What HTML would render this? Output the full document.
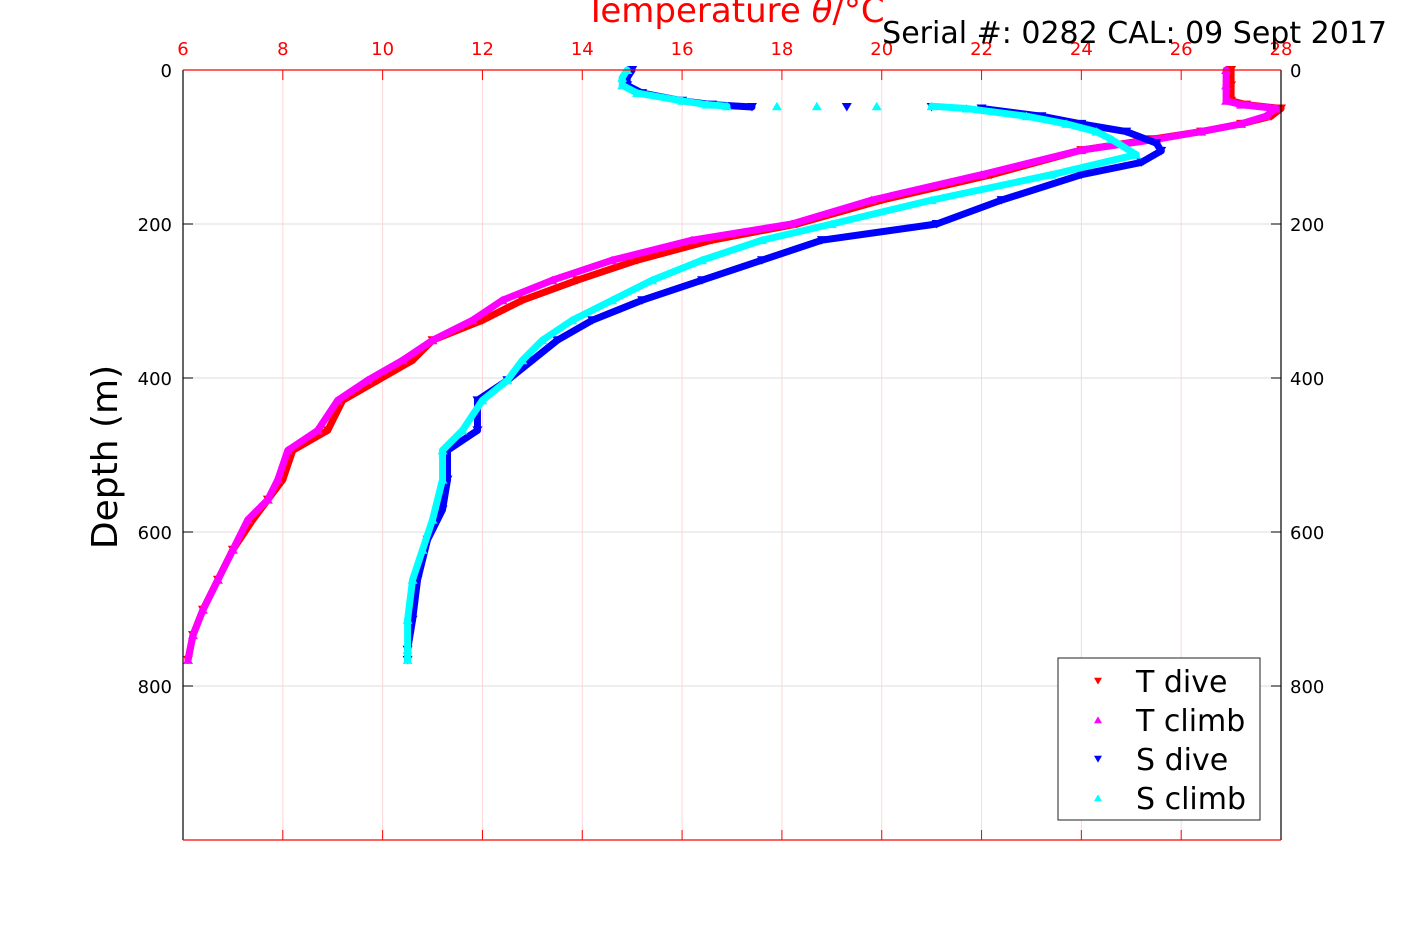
<!DOCTYPE html>
<html><head><meta charset="utf-8"><style>
html,body{margin:0;padding:0;background:#fff;}
svg{display:block;font-family:"DejaVu Sans","Liberation Sans",sans-serif;}
</style></head><body>
<svg id="chart" width="1417" height="945" viewBox="0 0 1417 945" xmlns="http://www.w3.org/2000/svg">
<rect width="1417" height="945" fill="#fff"/>
<g id="grid"></g>
<g id="series"></g>
<g id="axes"></g>
<text x="735" y="22" font-size="34" fill="#ff0000" text-anchor="middle">Temperature <tspan font-style="italic">θ</tspan>/°C</text>
<text x="1387" y="43" font-size="30" fill="#000" text-anchor="end">Serial #: 0282  CAL: 09 Sept 2017</text>
<text transform="translate(117,457) rotate(-90)" font-size="36" fill="#000" text-anchor="middle">Depth (m)</text>
<g id="legend"></g>
</svg>
<script>
const xTicks=[6,8,10,12,14,16,18,20,22,24,26,28];
const yTicks=[0,200,400,600,800,1000];
const yTickLabels=["0","200","400","600","800",""];
const tDiveDepth=[0,20,40,45,50,60,70,80,90,104,136,169,200,221,247,273,299,325,351,377,403,429,468,494,532,558,584,623,662,701,734,766];
const tDiveVal=[27.0,27.0,27.0,27.3,28.0,27.8,27.2,26.4,25.4,24.0,22.2,20.0,18.3,16.6,15.1,13.9,12.8,12.0,11.0,10.6,9.9,9.2,8.9,8.2,8.0,7.7,7.4,7.0,6.7,6.4,6.2,6.1];
const tClimbDepth=[0,20,40,45,50,60,70,80,90,104,136,169,200,221,247,273,299,325,351,377,403,429,468,494,532,558,584,623,662,701,734,766];
const tClimbVal=[26.9,26.9,26.9,27.2,27.9,27.7,27.2,26.4,25.5,24.0,22.0,19.8,18.2,16.2,14.6,13.4,12.4,11.8,11.0,10.4,9.7,9.1,8.7,8.1,7.9,7.7,7.3,7.0,6.7,6.4,6.2,6.1];
const sDiveDepth=[0,10,20,30,40,45,48,48,48,50,60,70,80,95,105,120,136,169,200,221,247,273,299,325,351,377,403,429,468,494,532,571,610,662,714,753,766];
const sDiveVal=[15.0,14.9,14.9,15.2,16.0,16.6,17.4,19.3,21.0,22.0,23.2,24.0,24.9,25.5,25.6,25.2,24.0,22.4,21.1,18.8,17.6,16.4,15.2,14.2,13.5,13.0,12.5,11.9,11.9,11.3,11.3,11.2,10.9,10.7,10.6,10.5,10.5];
const sClimbDepth=[0,10,20,30,40,45,47,47,47,47,47,50,60,70,80,90,110,136,169,200,221,247,273,299,325,351,377,403,429,468,494,532,584,623,662,714,753,766];
const sClimbVal=[14.9,14.8,14.8,15.1,16.0,16.5,16.9,17.9,18.7,19.9,21.0,21.7,22.9,23.7,24.3,24.6,25.1,23.4,21.0,19.0,17.6,16.4,15.4,14.6,13.8,13.2,12.8,12.5,12.0,11.6,11.2,11.2,11.0,10.8,10.6,10.5,10.5,10.5];
const seriesNames=["T dive","T climb","S dive","S climb"];
const seriesColors=["#ff0000","#ff00ff","#0000ff","#00ffff"];
const seriesDown=[true,false,true,false];

const X0=183,X1=1281,Y0=70,Y1=840;
const xs=v=>X0+(v-6)/(28-6)*(X1-X0);
const ys=d=>Y0+d/1000*(Y1-Y0);
const NS="http://www.w3.org/2000/svg";
function mk(tag,attrs,parent){const e=document.createElementNS(NS,tag);for(const k in attrs)e.setAttribute(k,attrs[k]);parent.appendChild(e);return e;}
const grid=document.getElementById('grid'),axes=document.getElementById('axes'),ser=document.getElementById('series'),leg=document.getElementById('legend');

xTicks.forEach(t=>{
  const x=xs(t);
  const g=mk('line',{x1:x,y1:Y0,x2:x,y2:Y1,stroke:'#ffd6d6','stroke-width':1},grid);
  
  
  const tk=mk('line',{x1:x,y1:Y0,x2:x,y2:Y0+10,stroke:'#ff0000','stroke-width':1},axes);
  
  
  const tb=mk('line',{x1:x,y1:Y1,x2:x,y2:Y1-10,stroke:'#ff0000','stroke-width':1},axes);
  
  
  const lb=mk('text',{x:x,y:55,'font-size':18,fill:'#ff0000','text-anchor':'middle'},axes);
  lb.textContent=t;
  
  
});
yTicks.forEach((t,i)=>{
  const y=ys(t);
  const g=mk('line',{x1:X0,y1:y,x2:X1,y2:y,stroke:'#dddddd','stroke-width':1},grid);
  
  
  const tl=mk('line',{x1:X0,y1:y,x2:X0+10,y2:y,stroke:'#000','stroke-width':1},axes);
  
  
  const tr=mk('line',{x1:X1,y1:y,x2:X1-10,y2:y,stroke:'#000','stroke-width':1},axes);
  
  
  const l=mk('text',{x:172,y:y+7,'font-size':18,fill:'#000','text-anchor':'end'},axes);
  l.textContent=yTickLabels[i];
  
  
  const r=mk('text',{x:1290,y:y+7,'font-size':18,fill:'#000','text-anchor':'start'},axes);
  r.textContent=yTickLabels[i];
  
  
});
const la=mk('line',{x1:X0,y1:Y0,x2:X0,y2:Y1,stroke:'#000','stroke-width':1.2},axes);


const ra=mk('line',{x1:X1,y1:Y0,x2:X1,y2:Y1,stroke:'#000','stroke-width':1.2},axes);


const ta=mk('line',{x1:X0,y1:Y0,x2:X1,y2:Y0,stroke:'#ff0000','stroke-width':1.2},axes);


const ba=mk('line',{x1:X0,y1:Y1,x2:X1,y2:Y1,stroke:'#ff0000','stroke-width':1.2},axes);



function tri(cx,cy,down,s){return down?`${cx-s},${cy-s*0.8} ${cx+s},${cy-s*0.8} ${cx},${cy+s*0.9}`:`${cx-s},${cy+s*0.8} ${cx+s},${cy+s*0.8} ${cx},${cy-s*0.9}`;}
const allD=[tDiveDepth,tClimbDepth,sDiveDepth,sClimbDepth];
const allV=[tDiveVal,tClimbVal,sDiveVal,sClimbVal];
const keys=['t-dive','t-climb','s-dive','s-climb'];
allD.forEach((D,si)=>{
  const V=allV[si],col=seriesColors[si];
  const g=mk('g',{},ser);
  
  
  for(let i=1;i<D.length;i++){
    if(Math.abs(V[i]-V[i-1])>0.8 && D[i]-D[i-1]<5) continue;
    const seg=mk('line',{x1:xs(V[i-1]),y1:ys(D[i-1]),x2:xs(V[i]),y2:ys(D[i]),stroke:col,'stroke-width':7,'stroke-linecap':'round'},g);
    
    
  }
  for(let i=0;i<D.length;i++){
    const p=mk('polygon',{points:tri(xs(V[i]),ys(D[i]),seriesDown[si],5),fill:col},g);
    
    
  }
});

// legend
const box=mk('rect',{x:1058,y:658,width:202,height:162,fill:'#fff',stroke:'#222','stroke-width':1},leg);


seriesNames.forEach((n,i)=>{
  const y=681+i*39;
  const m=mk('polygon',{points:tri(1098,y,seriesDown[i],4),fill:seriesColors[i]},leg);
  
  
  const t=mk('text',{x:1136,y:y+11,'font-size':30,fill:'#000'},leg);
  t.textContent=n;
  
  
});
</script>
</body></html>
